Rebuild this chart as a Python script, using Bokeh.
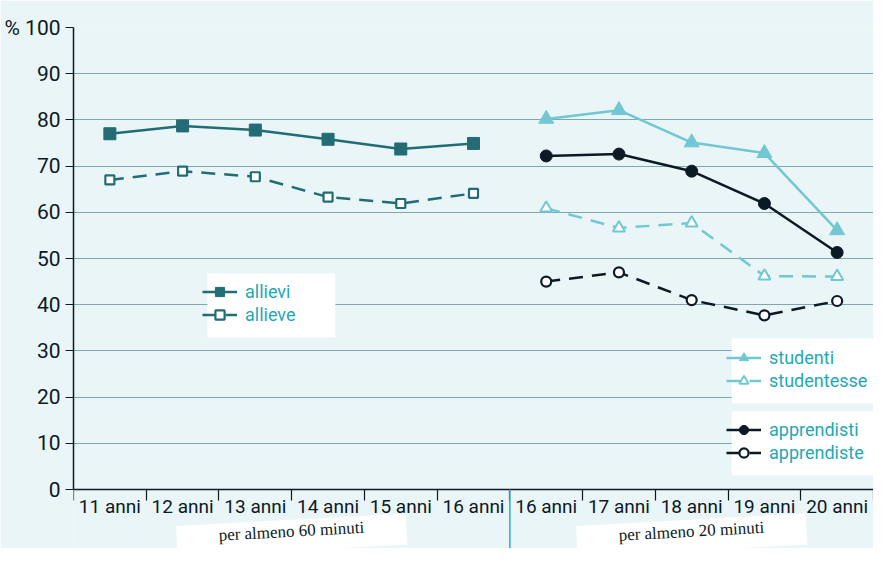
from bokeh.plotting import figure
from bokeh.models import (Range1d, FixedTicker, Legend, LegendItem, Label, Arrow)
from bokeh.embed import file_html
from bokeh.resources import INLINE

# ---- data ----
categories = ["11 anni", "12 anni", "13 anni", "14 anni", "15 anni", "16 anni",
              "16 anni", "17 anni", "18 anni", "19 anni", "20 anni"]
allievi = [77.0, 78.7, 77.8, 75.8, 73.7, 74.9]
allieve = [67.0, 68.9, 67.7, 63.3, 61.9, 64.1]
studenti = [80.2, 82.1, 75.1, 72.8, 56.1]
studentesse = [60.9, 56.6, 57.7, 46.2, 46.1]
apprendisti = [72.2, 72.6, 68.9, 61.9, 51.3]
apprendiste = [45.0, 47.0, 41.0, 37.7, 40.8]
y_ticks = [0, 10, 20, 30, 40, 50, 60, 70, 80, 90, 100]
group_labels = ["per almeno 60 minuti", "per almeno 20 minuti"]

# positions
centers = [i + 0.5 for i in range(len(categories))]
bounds = list(range(len(categories) + 1))
x_left = centers[:6]
x_right = centers[6:]

BG = "#EAF5F8"
GRID = "#7FA8AE"
TEAL_D = "#236C75"
CYAN = "#72C8D2"
DARK = "#0B1A24"
LEG_TXT = "#1FA8B5"
AX_FONT = "Roboto"

W, H = 873, 548
TOP = 27
LEFT = 73
PX0 = 462  # pixels from top of frame to value 0
frame_h = H - TOP
y_start = -(frame_h - PX0) / PX0 * 100

p = figure(width=W, height=H, output_backend="svg", toolbar_location=None,
           x_range=Range1d(0, 11), y_range=Range1d(y_start, 100),
           min_border_left=LEFT, min_border_right=0, min_border_top=TOP,
           min_border_bottom=0)
p.background_fill_color = BG
p.border_fill_color = BG
p.outline_line_color = None

# grid
p.xgrid.visible = False
p.ygrid.ticker = FixedTicker(ticks=y_ticks[1:])
p.ygrid.grid_line_color = GRID
p.ygrid.grid_line_width = 1

# y axis
yax = p.yaxis[0]
yax.ticker = FixedTicker(ticks=y_ticks)
yax.bounds = (0, 100)
yax.major_label_overrides = {100: "% 100"}
yax.axis_line_color = DARK
yax.axis_line_width = 1.5
yax.major_tick_line_color = DARK
yax.major_tick_out = 8
yax.major_tick_in = 0
yax.minor_tick_line_color = None
yax.major_label_standoff = 5
yax.major_label_text_font = AX_FONT
yax.major_label_text_font_size = "21px"
yax.major_label_text_color = DARK

# x axis, drawn at value 0 inside the frame
xax = p.xaxis[0]
xax.fixed_location = 0
xax.ticker = FixedTicker(ticks=centers, minor_ticks=bounds)
xax.major_label_overrides = {c: lab for c, lab in zip(centers, categories)}
xax.axis_line_color = DARK
xax.axis_line_width = 1.5
xax.major_tick_line_color = None
xax.major_tick_out = 0
xax.major_tick_in = 0
xax.minor_tick_line_color = DARK
xax.minor_tick_line_width = 1.2
xax.minor_tick_out = 11
xax.minor_tick_in = 0
xax.major_label_standoff = -6
xax.major_label_text_font = AX_FONT
xax.major_label_text_font_size = "19px"
xax.major_label_text_color = DARK

# white legend boxes (data coordinates)
p.quad(left=[1.84, 9.05, 9.05], right=[3.60, 11, 11],
       top=[46.75, 32.68, 16.88], bottom=[32.9, 18.61, 3.03],
       fill_color="white", line_color=None)

DASH = "14 9"

# series
l1 = p.line(x_left, allievi, line_color=TEAL_D, line_width=2.5)
s1 = p.scatter(x_left, allievi, marker="square", size=12, fill_color=TEAL_D, line_color=TEAL_D)
l2 = p.line(x_left, allieve, line_color=TEAL_D, line_width=2.5, line_dash=DASH)
s2 = p.scatter(x_left, allieve, marker="square", size=9, fill_color="white", line_color=TEAL_D, line_width=2.2)

l3 = p.line(x_right, studenti, line_color=CYAN, line_width=2.5)
s3 = p.scatter(x_right, studenti, marker="triangle", size=15, fill_color=CYAN, line_color=CYAN)
l4 = p.line(x_right, studentesse, line_color=CYAN, line_width=2.5, line_dash=DASH)
s4 = p.scatter(x_right, studentesse, marker="triangle", size=12, fill_color="white", line_color=CYAN, line_width=2)

l5 = p.line(x_right, apprendisti, line_color=DARK, line_width=2.5)
s5 = p.scatter(x_right, apprendisti, marker="circle", size=12, fill_color=DARK, line_color=DARK)
l6 = p.line(x_right, apprendiste, line_color=DARK, line_width=2.5, line_dash=DASH)
s6 = p.scatter(x_right, apprendiste, marker="circle", size=10, fill_color="white", line_color=DARK, line_width=2.2)


def make_legend(items, loc):
    lg = Legend(items=items, location=loc)
    lg.background_fill_alpha = 0
    lg.border_line_color = None
    lg.padding = 0
    lg.spacing = 0
    lg.margin = 0
    lg.glyph_width = 35
    lg.glyph_height = 23
    lg.label_height = 23
    lg.label_standoff = 8
    lg.label_text_font = "Roboto"
    lg.label_text_font_size = "18px"
    lg.label_text_color = LEG_TXT
    lg.label_text_baseline = "middle"
    return lg


p.add_layout(make_legend([LegendItem(label="allievi", renderers=[l1, s1]),
                          LegendItem(label="allieve", renderers=[l2, s2])], (129, 222)))
p.add_layout(make_legend([LegendItem(label="studenti", renderers=[l3, s3]),
                          LegendItem(label="studentesse", renderers=[l4, s4])], (653, 156)))
p.add_layout(make_legend([LegendItem(label="apprendisti", renderers=[l5, s5]),
                          LegendItem(label="apprendiste", renderers=[l6, s6])], (653, 84)))

# separator between the two groups
p.add_layout(Arrow(end=None, x_start=6, y_start=0, x_end=6, y_end=y_start - 5,
                   line_color="#2AAFBD", line_width=1.5))

# group labels
for gx, txt in zip([3, 8.5], group_labels):
    p.add_layout(Label(x=gx, y=-9.9, text=txt, text_align="center", text_baseline="middle",
                       angle=0.055, text_font="Liberation Serif", text_font_size="17px",
                       text_color=DARK, background_fill_color="white",
                       padding=dict(left=42, right=42, top=2, bottom=10)))

open("out.html", "w").write(file_html(p, INLINE))
